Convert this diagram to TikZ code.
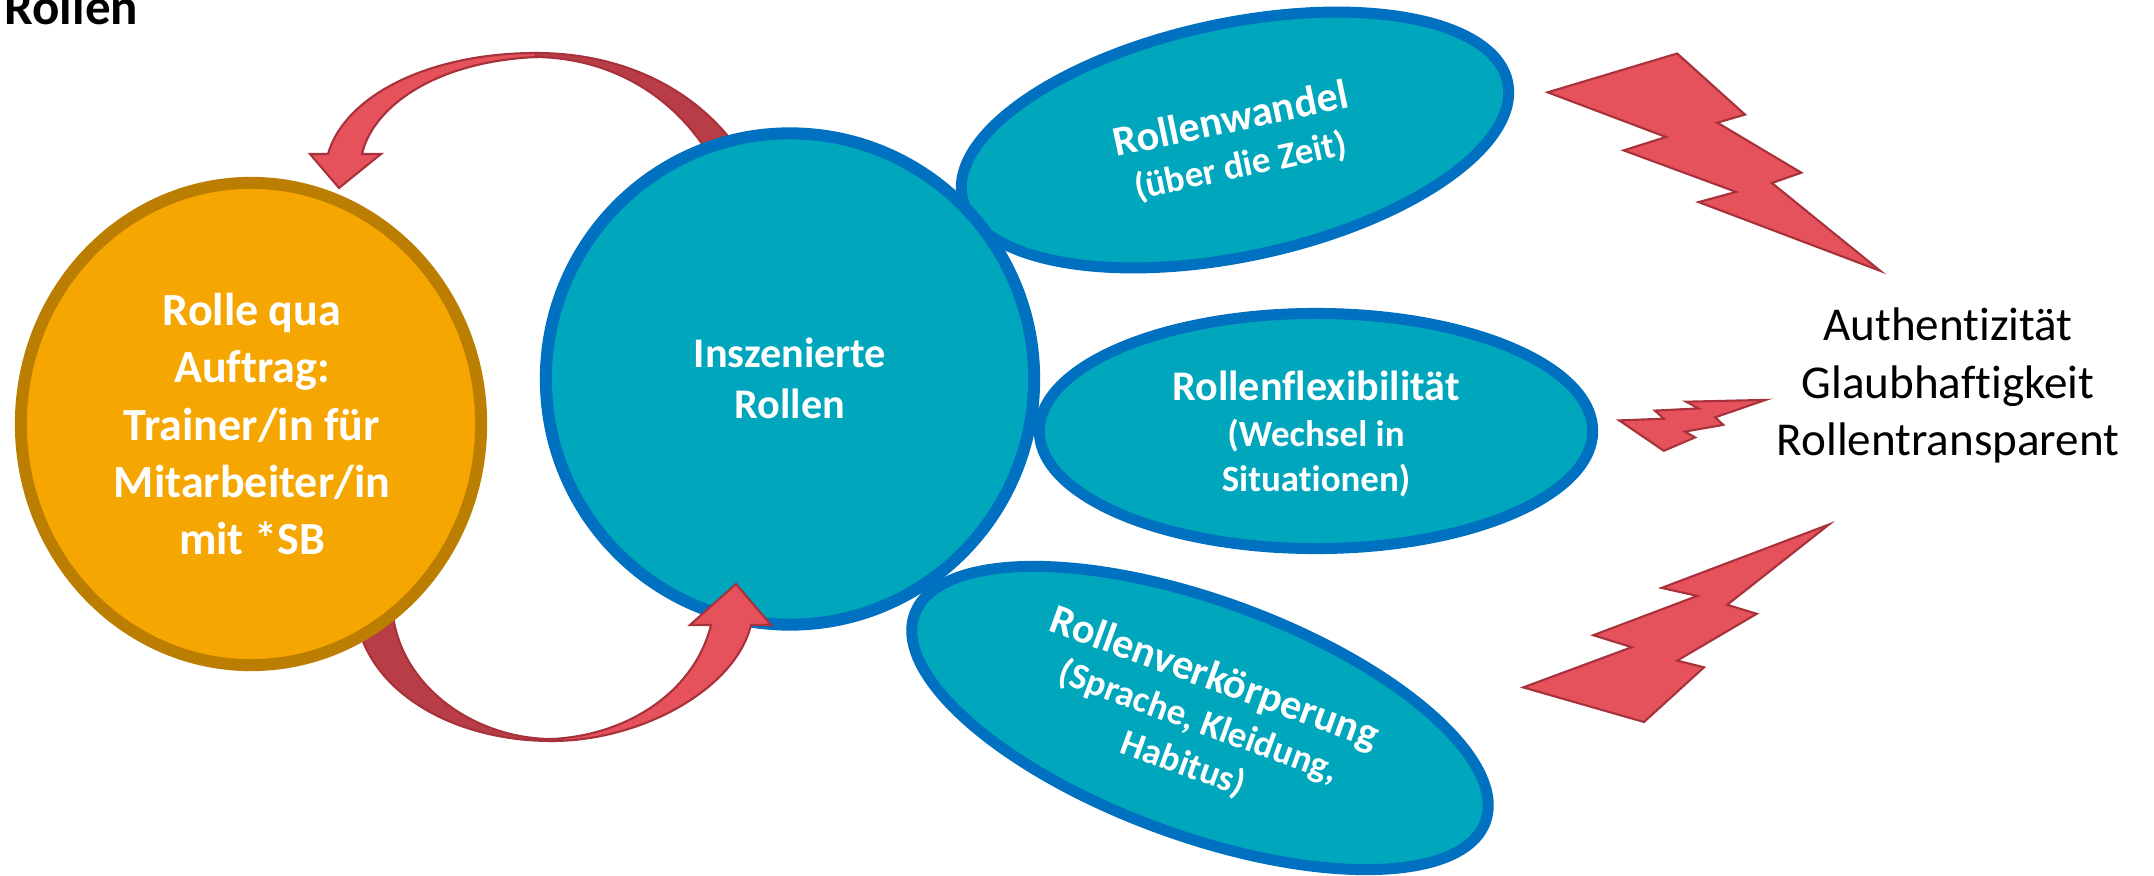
\documentclass[tikz,border=0pt]{standalone}
\usepackage{fontspec}
\setmainfont{Carlito}[Ligatures=NoCommon]
\usetikzlibrary{shapes.geometric}
\definecolor{tealfill}{HTML}{00A6BC}
\definecolor{tealborder}{HTML}{0070C0}
\definecolor{orangefill}{HTML}{F5A600}
\definecolor{orangeborder}{HTML}{BC7E00}
\definecolor{redlight}{HTML}{E6525C}
\definecolor{reddark}{HTML}{B93D47}
\definecolor{redline}{HTML}{A8323C}
\begin{document}
\begin{tikzpicture}[x=0.01cm, y=-0.01cm,
  bigshape/.style={ellipse, inner sep=0pt, line width=0.12cm},
  tealshape/.style={bigshape, fill=tealfill, draw=tealborder},
  smallshape/.style={ellipse, inner sep=0pt, line width=0.11cm, fill=tealfill, draw=tealborder},
  orangeshape/.style={bigshape, fill=orangefill, draw=orangeborder},
  wtext/.style={inner sep=0pt, anchor=base, text=white},
  headtext/.style={wtext, font={\fontsize{12}{14}\selectfont\bfseries}},
  subtext/.style={wtext, font={\fontsize{10.5}{12.6}\selectfont\bfseries}},
  orangetext/.style={wtext, font={\fontsize{13.1}{16}\selectfont\bfseries}},
  centertext/.style={wtext, font={\fontsize{12}{14}\selectfont\bfseries}},
  blacktext/.style={inner sep=0pt, anchor=base, text=black, font={\fontsize{13.4}{16}\selectfont}},
  bolt/.style={fill=redlight, draw=redline, line width=0.6pt, line join=miter},
  arrowfront/.style={fill=redlight, draw=redline, line width=0.6pt},
  arrowback/.style={fill=reddark, draw=redline, line width=0.6pt},
]
\useasboundingbox (0,0) rectangle (2154,876);
\fill[white] (0,0) rectangle (2154,876);

% title
\node[inner sep=0pt, anchor=base west, font={\fontsize{14.5}{17}\selectfont\bfseries}] (title) at (4,25) {Rollen};

% top curved arrow (teal -> orange)
\path[arrowback] (536,53) .. controls (630,53) and (705,95) .. (745,160) -- (715,165) .. controls (680,100) and (615,58) .. (536,57) -- cycle;
\path[arrowfront] (536,53) .. controls (430,53) and (345,95) .. (328,154) -- (310,154) -- (339,188) -- (381,154) -- (362,154) .. controls (372,110) and (430,62) .. (536,57) -- cycle;

% Rollenwandel
\begin{scope}[shift={(1235,140)}, rotate=12, transform shape]
  \node[smallshape, minimum width=5.57cm, minimum height=2.33cm] (wandel) at (0,0) {};
  \node[headtext] (wandelA) at (0,-8) {Rollenwandel};
  \node[subtext] (wandelB) at (0,38) {(über die Zeit)};
\end{scope}

% Rollenflexibilitaet
\node[smallshape, minimum width=5.53cm, minimum height=2.35cm] (flex) at (1316,431) {};
\node[headtext] (flexA) at (1316,400) {Rollenflexibilität};
\node[subtext] (flexB) at (1316,446) {(Wechsel in};
\node[subtext] (flexC) at (1316,491) {Situationen)};

% Rollenverkoerperung
\begin{scope}[shift={(1200,718)}, rotate=-20, transform shape]
  \node[smallshape, minimum width=6.07cm, minimum height=2.35cm] (verk) at (0,0) {};
  \node[headtext] (verkA) at (0,-30) {Rollenverkörperung};
  \node[subtext] (verkB) at (0,15) {(Sprache, Kleidung,};
  \node[subtext] (verkC) at (0,60) {Habitus)};
\end{scope}

% Inszenierte Rollen
\node[tealshape, minimum width=4.88cm, minimum height=4.91cm] (inszen) at (790,379) {};
\node[centertext] (inszenA) at (790,367) {Inszenierte};
\node[centertext] (inszenB) at (790,419) {Rollen};

% bottom curved arrow (orange -> teal)
\path[arrowback] (355,600) .. controls (355,682) and (443,741) .. (552,741) -- (552,739) .. controls (470,739) and (392,680) .. (392,600) -- cycle;
\path[arrowfront] (552,741) .. controls (640,741) and (735,690) .. (751,625) -- (771,625) -- (736,584) -- (690,625) -- (711,625) .. controls (695,690) and (630,735) .. (552,739) -- cycle;

% Rolle qua Auftrag
\node[orangeshape, minimum width=4.60cm, minimum height=4.82cm] (auftrag) at (251,424) {};
\node[orangetext] (auftragA) at (252,326) {Rolle qua};
\node[orangetext] (auftragB) at (252,383) {Auftrag:};
\node[orangetext] (auftragC) at (252,440) {Trainer/in für};
\node[orangetext] (auftragD) at (252,497) {Mitarbeiter/in};
\node[orangetext] (auftragE) at (252,554) {mit *SB};

% lightning bolts
\path[bolt] (1547.7,92.3) -- (1677.2,53.5) -- (1745,114.6) -- (1717.4,122.7) -- (1801.3,172.7) -- (1771.9,183) -- (1880.3,270.9) -- (1698.6,202.1) -- (1736.1,191.9) -- (1623.6,150.4) -- (1666,137) -- cycle;
\path[bolt] (1619.2,420.4) -- (1663.8,450.8) -- (1695.1,437.4) -- (1684.8,431.6) -- (1723.2,424.9) -- (1715.2,417.3) -- (1765.6,399.9) -- (1686.1,401.7) -- (1698.6,408.4) -- (1654.9,410.6) -- (1663.8,418.7) -- cycle;
\path[bolt] (1523.2,687.4) -- (1644,722) -- (1704,667.3) -- (1677.2,660.6) -- (1756.7,613.8) -- (1727.2,604.8) -- (1829,524.5) -- (1661.6,587.9) -- (1697.3,595.9) -- (1593.3,635.2) -- (1631.7,647.2) -- cycle;

% right text
\node[blacktext] (authA) at (1948,340.5) {Authentizität};
\node[blacktext] (authB) at (1948,398.6) {Glaubhaftigkeit};
\node[blacktext] (authC) at (1948,455) {Rollentransparent};
\end{tikzpicture}
\end{document}
